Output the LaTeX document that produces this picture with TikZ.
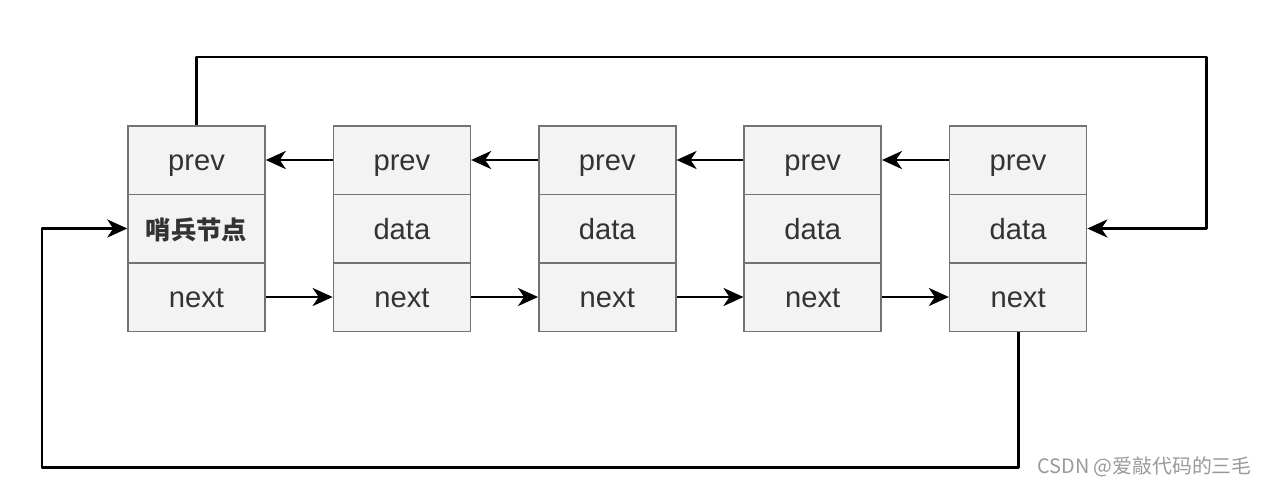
\documentclass[tikz,border=0pt]{standalone}
\usepackage{fontspec}
\setmainfont{Liberation Sans}
\newfontfamily\cjk{Noto Sans CJK SC}
\usepackage{tikz}
\usepackage{xcolor}
\usetikzlibrary{
    arrows.meta,
    positioning
}
\definecolor{cellfill}{HTML}{F3F3F3}
\definecolor{cellline}{HTML}{737373}
\definecolor{celltext}{HTML}{333333}
\tikzset{cell/.style={draw=cellline, line width=0.85pt, fill=cellfill, text=celltext, minimum width=2.74cm, minimum height=1.37cm, inner sep=0pt, text height=12pt, text depth=0pt, font=\fontsize{16.6}{19}\selectfont}}
\tikzset{link/.style={line width=1.7pt, line join=round, -{Stealth[length=0.4cm, width=0.36cm, inset=0.12cm]}}}

\begin{document}
\begin{tikzpicture}[x=0.02cm, y=-0.02cm]
                        \useasboundingbox (0, 0) rectangle (1268, 487);

                        \node[cell] (p1) at (196.5, 160) {prev};
                        \node[cell] (d1) at (196.5, 228.5) {\cjk\bfseries\fontsize{14.4}{17}\selectfont 哨兵节点};
                        \node[cell] (n1) at (196.5, 297) {next};

                        \node[cell] (p2) at (401.9, 160) {prev};
                        \node[cell] (d2) at (401.9, 228.5) {data};
                        \node[cell] (n2) at (401.9, 297) {next};

                        \node[cell] (p3) at (607.3, 160) {prev};
                        \node[cell] (d3) at (607.3, 228.5) {data};
                        \node[cell] (n3) at (607.3, 297) {next};

                        \node[cell] (p4) at (812.7, 160) {prev};
                        \node[cell] (d4) at (812.7, 228.5) {data};
                        \node[cell] (n4) at (812.7, 297) {next};

                        \node[cell] (p5) at (1018.1, 160) {prev};
                        \node[cell] (d5) at (1018.1, 228.5) {data};
                        \node[cell] (n5) at (1018.1, 297) {next};

                        \coordinate (tr) at (1206, 57);
                        \coordinate (bl) at (42, 467);

                        \node[text=black!40, inner sep=0pt, font=\cjk\fontsize{11.3}{13}\selectfont, anchor=east] (wm) at (1252, 467) {CSDN @爱敲代码的三毛};

                        \draw
                        (p2) edge[link] (p1)
                        (p3) edge[link] (p2)
                        (p4) edge[link] (p3)
                        (p5) edge[link] (p4)
                        (n1) edge[link] (n2)
                        (n2) edge[link] (n3)
                        (n3) edge[link] (n4)
                        (n4) edge[link] (n5);

                        \draw[link] (p1.north) |- (tr) |- (d5.east);
                        \draw[link] (n5.south) |- (bl) |- (d1.west);
                    \end{tikzpicture}
\end{document}
